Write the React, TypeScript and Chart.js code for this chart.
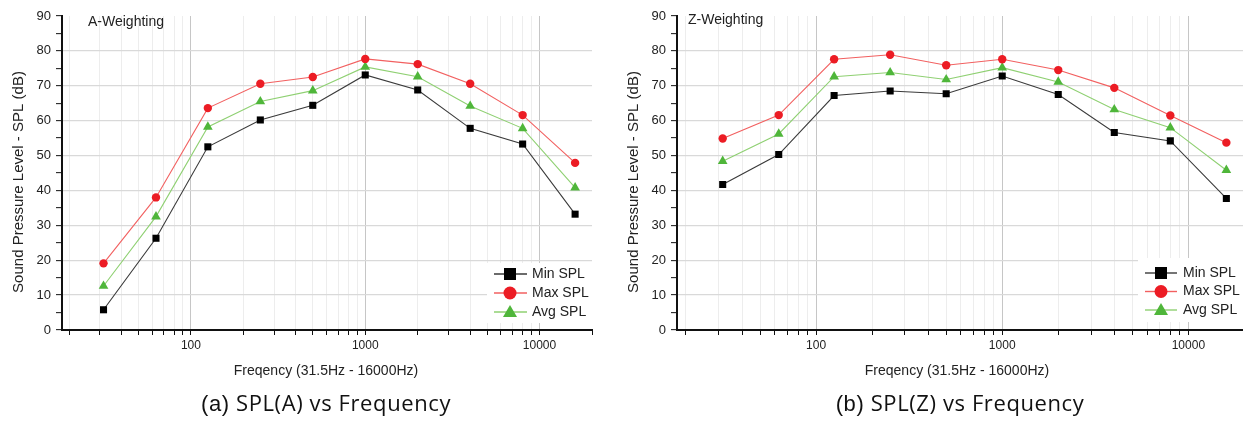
import React, { useEffect, useRef } from 'react';
import { Chart, registerables } from 'chart.js';

Chart.register(...registerables);

const FONT = '"Liberation Sans", Arial, sans-serif';

const freqs = [31.5, 63, 125, 250, 500, 1000, 2000, 4000, 8000, 16000];
const seriesNames = ['Min SPL', 'Max SPL', 'Avg SPL'];

const minA = [5.8, 26.3, 52.5, 60.2, 64.4, 73.1, 68.8, 57.8, 53.3, 33.2];
const maxA = [19.1, 38.0, 63.6, 70.6, 72.5, 77.7, 76.2, 70.6, 61.6, 47.9];
const avgA = [12.6, 32.5, 58.2, 65.5, 68.6, 75.4, 72.6, 64.2, 57.8, 40.8];

const minZ = [41.7, 50.3, 67.2, 68.5, 67.7, 72.8, 67.5, 56.6, 54.2, 37.7];
const maxZ = [54.9, 61.6, 77.6, 78.9, 75.9, 77.6, 74.5, 69.4, 61.5, 53.7];
const avgZ = [48.4, 56.2, 72.6, 73.8, 71.8, 75.2, 71.1, 63.2, 58.0, 45.8];

const xTickValues = [
  20, 30, 40, 50, 60, 70, 80, 90,
  100, 200, 300, 400, 500, 600, 700, 800, 900,
  1000, 2000, 3000, 4000, 5000, 6000, 7000, 8000, 9000,
  10000, 20000,
];
const xLabelValues = [100, 1000, 10000];
const yMin = 0;
const yMax = 90;
const yStep = 5;

const yTitle = 'Sound Pressure Level - SPL (dB)';
const xTitle = 'Freqency (31.5Hz - 16000Hz)';

const lineColors = ['#3a3a3a', '#f26060', '#8fd072'];
const markerColors = ['#000000', '#ec1c24', '#4fb63a'];
const markerStyles = ['rect', 'circle', 'triangle'];
const markerRadii = [5, 4.2, 5.6];

function drawMarker(ctx, style, x, y, size, color) {
  ctx.fillStyle = color;
  ctx.beginPath();
  if (style === 'rect') {
    ctx.rect(x - size / 2, y - size / 2, size, size);
  } else if (style === 'circle') {
    ctx.arc(x, y, size / 2, 0, Math.PI * 2);
  } else {
    const h = size * 0.87;
    ctx.moveTo(x, y - h / 2 - 1);
    ctx.lineTo(x + size / 2, y + h / 2 - 1);
    ctx.lineTo(x - size / 2, y + h / 2 - 1);
    ctx.closePath();
  }
  ctx.fill();
}

const overlayPlugin = {
  id: 'overlay',
  afterDraw(chart, _args, opts) {
    const ctx = chart.ctx;
    ctx.save();
    ctx.fillStyle = '#222';
    ctx.textBaseline = 'middle';
    ctx.font = '14px ' + FONT;
    ctx.textAlign = 'left';
    ctx.fillText(opts.label, opts.labelX, opts.labelY);
    ctx.save();
    ctx.translate(opts.yTitleX, opts.yTitleY);
    ctx.rotate(-Math.PI / 2);
    ctx.font = '15px ' + FONT;
    ctx.textAlign = 'center';
    ctx.fillText(yTitle, 0, 0);
    ctx.restore();
    ctx.font = '14px ' + FONT;
    ctx.textAlign = 'center';
    ctx.fillText(xTitle, opts.xTitleX, opts.xTitleY);
    const lg = opts.legend;
    ctx.fillStyle = '#ffffff';
    ctx.fillRect(lg.x, lg.y, lg.w, lg.h);
    chart.data.datasets.forEach((ds, i) => {
      const y = lg.firstY + i * lg.step;
      ctx.strokeStyle = lineColors[i];
      ctx.lineWidth = 1.4;
      ctx.beginPath();
      ctx.moveTo(lg.lineX0, y);
      ctx.lineTo(lg.lineX1, y);
      ctx.stroke();
      drawMarker(ctx, markerStyles[i], lg.markerX, y, [12, 13, 14][i], markerColors[i]);
      ctx.fillStyle = '#222';
      ctx.font = '14px ' + FONT;
      ctx.textAlign = 'left';
      ctx.fillText(ds.label, lg.textX, y);
    });
    ctx.restore();
  },
};

function SplChart({ mins, maxs, avgs, xMin, xMax, yAxisWidth, padRight, overlay }) {
  const ref = useRef(null);
  useEffect(() => {
    const series = [mins, maxs, avgs];
    const chart = new Chart(ref.current, {
      type: 'line',
      data: {
        datasets: series.map((vals, i) => ({
          label: seriesNames[i],
          data: freqs.map((f, j) => ({ x: f, y: vals[j] })),
          borderColor: lineColors[i],
          borderWidth: 1.1,
          backgroundColor: markerColors[i],
          pointBackgroundColor: markerColors[i],
          pointBorderColor: markerColors[i],
          pointBorderWidth: 0,
          pointStyle: markerStyles[i],
          pointRadius: markerRadii[i],
          tension: 0,
          fill: false,
        })),
      },
      options: {
        animation: false,
        responsive: true,
        maintainAspectRatio: false,
        layout: { padding: { left: 0, top: 16, right: padRight, bottom: 42 } },
        plugins: {
          legend: { display: false },
          tooltip: { enabled: false },
          overlay,
        },
        scales: {
          x: {
            type: 'logarithmic',
            min: xMin,
            max: xMax,
            afterBuildTicks: (scale) => {
              scale.ticks = xTickValues.map((v) => ({ value: v }));
            },
            afterFit: (scale) => {
              scale.height = 50;
            },
            ticks: {
              autoSkip: false,
              maxRotation: 0,
              padding: 3,
              color: '#222',
              font: { family: FONT, size: 12 },
              callback: (v) => (xLabelValues.includes(Number(v)) ? String(v) : ''),
            },
            grid: {
              color: (c) => {
                const v = c.tick ? c.tick.value : 0;
                if (xLabelValues.includes(v)) return '#c6c6c6';
                if (v >= 20000) return 'rgba(0,0,0,0)';
                return '#ededed';
              },
              lineWidth: 1,
              tickColor: '#111',
              tickLength: 5,
              tickWidth: 1,
            },
            border: { display: true, color: '#111', width: 2 },
          },
          y: {
            type: 'linear',
            min: yMin,
            max: yMax,
            afterFit: (scale) => {
              scale.width = yAxisWidth;
            },
            ticks: {
              stepSize: yStep,
              autoSkip: false,
              padding: 5,
              color: '#222',
              font: { family: FONT, size: 13 },
              callback: (v) => (Number(v) % 10 === 0 ? String(v) : ''),
            },
            grid: {
              color: (c) => {
                const v = c.tick ? c.tick.value : 0;
                if (v % 10 === 0 && v > yMin && v < yMax) return '#d9d9d9';
                return 'rgba(0,0,0,0)';
              },
              lineWidth: 1.3,
              tickColor: '#111',
              tickLength: 6,
              tickWidth: 1,
            },
            border: { display: true, color: '#111', width: 2 },
          },
        },
      },
      plugins: [overlayPlugin],
    });
    return () => chart.destroy();
  }, []);
  return <canvas ref={ref} />;
}

const captionStyle = {
  position: 'absolute',
  top: 391,
  fontSize: 22,
  lineHeight: '22px',
  letterSpacing: '0.6px',
  color: '#111',
  whiteSpace: 'nowrap',
  transform: 'translateX(-50%)',
  fontFamily: '"Open Sans", Lato, sans-serif',
} as any;

export default function App() {
  return (
    <div
      style={{
        position: 'fixed',
        left: 0,
        top: 0,
        width: 1243,
        height: 422,
        overflow: 'hidden',
        background: '#fff',
      }}
    >
      <div style={{ position: 'absolute', left: 0, top: 0, width: 620, height: 422 }}>
        <SplChart
          mins={minA}
          maxs={maxA}
          avgs={avgA}
          xMin={18.2}
          xMax={20000}
          yAxisWidth={62}
          padRight={28}
          overlay={{
            label: 'A-Weighting',
            labelX: 88,
            labelY: 22,
            yTitleX: 19,
            yTitleY: 182,
            xTitleX: 326,
            xTitleY: 371,
            legend: { x: 487, y: 263, w: 106, h: 60, firstY: 274, step: 19, lineX0: 494, lineX1: 527, markerX: 510, textX: 532 },
          }}
        />
      </div>
      <div style={{ position: 'absolute', left: 620, top: 0, width: 630, height: 422 }}>
        <SplChart
          mins={minZ}
          maxs={maxZ}
          avgs={avgZ}
          xMin={17.9}
          xMax={20000}
          yAxisWidth={57}
          padRight={4.5}
          overlay={{
            label: 'Z-Weighting',
            labelX: 68,
            labelY: 20,
            yTitleX: 14,
            yTitleY: 182,
            xTitleX: 337,
            xTitleY: 371,
            legend: { x: 518, y: 258, w: 112, h: 64, firstY: 273, step: 18.5, lineX0: 525, lineX1: 557, markerX: 541, textX: 563 },
          }}
        />
      </div>
      <div style={{ ...captionStyle, left: 326 }}>
        <span style={{ fontFamily: FONT }}>(a)</span> SPL(A) vs Frequency
      </div>
      <div style={{ ...captionStyle, left: 960 }}>
        <span style={{ fontFamily: FONT }}>(b)</span> SPL(Z) vs Frequency
      </div>
    </div>
  );
}
